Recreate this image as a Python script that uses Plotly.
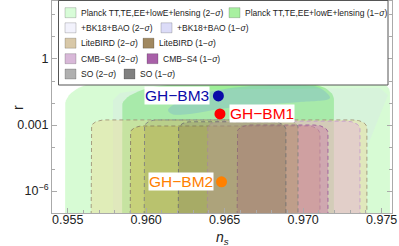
import numpy as np
import plotly.graph_objects as go

# ---------------- data ----------------
ns_ticks = [0.955, 0.960, 0.965, 0.970, 0.975]
ns_tick_text = ["0.955", "0.960", "0.965", "0.970", "0.975"]
r_ticks = [1, 1e-3, 1e-6]
r_tick_text = ["1", "0.001", "10<sup>−6</sup>"]

bench_names = ["GH−BM3", "GH−BM1", "GH−BM2"]
bench_ns = [0.9646, 0.9647, 0.9648]
bench_r = [0.021, 0.0032, 2.6e-6]
bench_colors = ["#0a0aa8", "#ff0000", "#ff8000"]

# band-like regions (vertical bands with a rounded top)
band_names = ["Planck TT,TE,EE+lowE+lensing (2−σ)", "Planck TT,TE,EE+lowE+lensing (1−σ)",
              "LiteBIRD (2−σ)", "LiteBIRD (1−σ)", "CMB−S4 (2−σ)", "CMB−S4 (1−σ)",
              "SO (2−σ)", "SO (1−σ)"]
band_ns_min = [0.95483, 0.95846, 0.95648, 0.95897, 0.96388, 0.96578, 0.95986, 0.96203]
band_ns_max = [0.97553, 0.97196, 0.97406, 0.97107, 0.97362, 0.97158, 0.96967, 0.96890]
band_r_max = [0.10, 0.072, 1.7e-3, 9.0e-4, 1.5e-3, 1.0e-3, 1.7e-3, 1.4e-3]
# corner rounding: (ns extent, decades) left / right
band_round_left = [(0.0029, 1.1), (0.0040, 1.0), (0.0009, 0.35), (0.0008, 0.35), (0.0009, 0.35),
                   (0.0009, 0.35), (0.0008, 0.35), (0.0008, 0.35)]
band_round_right = [(0.0012, 0.5), (0.0017, 0.7), (0.0009, 0.35), (0.0008, 0.35), (0.0009, 0.35),
                    (0.0009, 0.35), (0.0008, 0.35), (0.0008, 0.35)]

# BK18+BAO contours
bk2_ns = [0.95789, 0.95789, 0.95833, 0.95960, 0.97489, 0.97540, 0.97413, 0.97406]
bk2_r = [1e-8, 0.0138, 0.0282, 0.0389, 0.0479, 0.0229, 1.23e-4, 1e-8]
bk1_ns = [0.96139, 0.96215, 0.96343, 0.96598, 0.96980, 0.97107, 0.97171, 0.96980,
          0.96725, 0.96470, 0.96279, 0.96164]
bk1_r = [0.00481, 0.01233, 0.02564, 0.0533, 0.0658, 0.0481, 0.01687, 0.01109,
         0.00811, 0.00533, 0.00316, 0.00316]

# ---------------- styles ----------------
fills = {
    "P2": "rgba(200,250,195,0.72)",
    "P1": "rgba(110,230,100,0.55)",
    "BK2": "rgba(215,215,250,0.20)",
    "BK1": "rgba(110,165,215,0.30)",
    "LB2": "rgba(235,220,150,0.45)",
    "LB1": "rgba(200,175,50,0.35)",
    "S42": "rgba(230,170,220,0.40)",
    "S41": "rgba(200,100,160,0.35)",
    "SO2": "rgba(150,155,80,0.28)",
    "SO1": "rgba(115,110,80,0.26)",
}
band_keys = ["P2", "P1", "LB2", "LB1", "S42", "S41", "SO2", "SO1"]
band_lines = [None, None, "#a09478", "#8a7e66", "#c49ccc", "#9a5a9a", "#808080", "#707070"]

legend_swatch = ["#d8fcd8", "#a8f0a0", "#f2f2fc", "#dcdcf8", "#d8c8a8", "#a08860",
                 "#d8b8d8", "#a860a8", "#b0b0b0", "#808080"]
legend_text = ["Planck TT,TE,EE+lowE+lensing (2−<i>σ</i>)", "Planck TT,TE,EE+lowE+lensing (1−<i>σ</i>)",
               "+BK18+BAO (2−<i>σ</i>)", "+BK18+BAO (1−<i>σ</i>)",
               "LiteBIRD (2−<i>σ</i>)", "LiteBIRD (1−<i>σ</i>)",
               "CMB−S4 (2−<i>σ</i>)", "CMB−S4 (1−<i>σ</i>)",
               "SO (2−<i>σ</i>)", "SO (1−<i>σ</i>)"]

FONT = "Liberation Sans, Arial, sans-serif"
W, H = 399, 246
ML, MR, MT, MB = 52, 7, 1, 33
PW, PH = W - ML - MR, H - MT - MB


def pxx(px):
    return (px - ML) / PW


def pxy(py):
    return (H - MB - py) / PH


def tomb(lo, hi, rtop, rl, rr, bottom=-9.0):
    top = np.log10(rtop)
    xs, ys = [lo], [bottom]
    xs.append(lo); ys.append(top - rl[1])
    t = np.linspace(np.pi, np.pi / 2, 16)
    xs += list(lo + rl[0] + rl[0] * np.cos(t)); ys += list(top - rl[1] + rl[1] * np.sin(t))
    t = np.linspace(np.pi / 2, 0, 16)
    xs += list(hi - rr[0] + rr[0] * np.cos(t)); ys += list(top - rr[1] + rr[1] * np.sin(t))
    xs.append(hi); ys.append(bottom)
    xs.append(lo); ys.append(bottom)
    return np.array(xs), 10 ** np.array(ys)


fig = go.Figure()


def add_band(i):
    x, y = tomb(band_ns_min[i], band_ns_max[i], band_r_max[i], band_round_left[i], band_round_right[i])
    lc = band_lines[i]
    fig.add_trace(go.Scatter(x=x, y=y, mode="lines", fill="toself", fillcolor=fills[band_keys[i]],
                             line=dict(color=lc if lc else "rgba(0,0,0,0)", width=0.9 if lc else 0,
                                       dash="4px,3px"),
                             name=band_names[i], showlegend=False, hoverinfo="skip"))


add_band(0)
add_band(1)
fig.add_trace(go.Scatter(x=bk2_ns + [bk2_ns[0]], y=bk2_r + [bk2_r[0]], mode="lines", fill="toself",
                         fillcolor=fills["BK2"], line=dict(width=0, color="rgba(0,0,0,0)"),
                         showlegend=False, hoverinfo="skip"))
fig.add_trace(go.Scatter(x=bk1_ns + [bk1_ns[0]], y=bk1_r + [bk1_r[0]], mode="lines", fill="toself",
                         fillcolor=fills["BK1"], line=dict(width=0, color="rgba(0,0,0,0)", shape="spline"),
                         showlegend=False, hoverinfo="skip"))
for i in range(2, 8):
    add_band(i)

fig.add_trace(go.Scatter(x=bench_ns, y=bench_r, mode="markers",
                         marker=dict(size=11, color=bench_colors, symbol="circle"), showlegend=False))

ann = []
for name, x, y, c, side in zip(bench_names, bench_ns, bench_r, bench_colors, ["l", "r", "l"]):
    ann.append(dict(x=x, y=np.log10(y), xref="x", yref="y", text=name, showarrow=False,
                    font=dict(family=FONT, size=15.5, color=c), bgcolor="white", borderpad=0,
                    xanchor="right" if side == "l" else "left", xshift=-8 if side == "l" else 9))

# axis titles
ann.append(dict(x=pxx(8), y=pxy(107), xref="paper", yref="paper", text="r", textangle=-90,
                showarrow=False, font=dict(family=FONT, size=14, color="#222")))
ann.append(dict(x=pxx(222), y=pxy(227), xref="paper", yref="paper", text="<i>n</i><sub><i>s</i></sub>",
                showarrow=False, yanchor="top", font=dict(family=FONT, size=14, color="#222")))

# manual legend
shapes = [dict(type="rect", xref="paper", yref="paper", x0=pxx(58.5), x1=pxx(388), y0=pxy(85), y1=pxy(0.5),
               fillcolor="white", line=dict(color="#555", width=1), layer="above")]
row_y = [12.7, 27.8, 43.2, 58.7, 74.0]
col2_x = [229, 161, 143, 147, 124]
for k in range(10):
    row = k // 2
    sx = 65 if k % 2 == 0 else col2_x[row]
    cy = row_y[row]
    shapes.append(dict(type="rect", xref="paper", yref="paper", x0=pxx(sx), x1=pxx(sx + 11),
                       y0=pxy(cy + 5), y1=pxy(cy - 5), fillcolor=legend_swatch[k],
                       line=dict(color="rgba(0,0,0,0.18)", width=1), layer="above"))
    ann.append(dict(x=pxx(sx + 13.5), y=pxy(cy), xref="paper", yref="paper", text=legend_text[k],
                    showarrow=False, xanchor="left", yanchor="middle",
                    font=dict(family=FONT, size=8.5, color="#222")))

axis_common = dict(showline=True, linecolor="#aaaaaa", linewidth=1, mirror="ticks", ticks="inside",
                   tickcolor="#aaaaaa", showgrid=False, zeroline=False, ticklabeloverflow="allow",
                   tickfont=dict(family=FONT, size=12.5, color="#222"))

fig.update_layout(
    width=W, height=H, margin=dict(l=ML, r=MR, t=MT, b=MB),
    paper_bgcolor="white", plot_bgcolor="white",
    xaxis=dict(range=[0.954, 0.97566], tickvals=ns_ticks, ticktext=ns_tick_text, ticklen=5,
               ticklabelstandoff=-5,
               minor=dict(dtick=0.001, ticks="inside", ticklen=3, tickcolor="#aaaaaa"), **axis_common),
    yaxis=dict(type="log", range=[-7.0, 2.636], tickvals=r_ticks, ticktext=r_tick_text, ticklen=5,
               minor=dict(tickvals=[10.0 ** k for k in range(-7, 3)], ticks="inside", ticklen=3,
                          tickcolor="#aaaaaa"), **axis_common),
    shapes=shapes, annotations=ann, showlegend=False,
)

fig.write_html("out.html", config={"displayModeBar": False},
               post_script="document.body.style.margin='0px';")
